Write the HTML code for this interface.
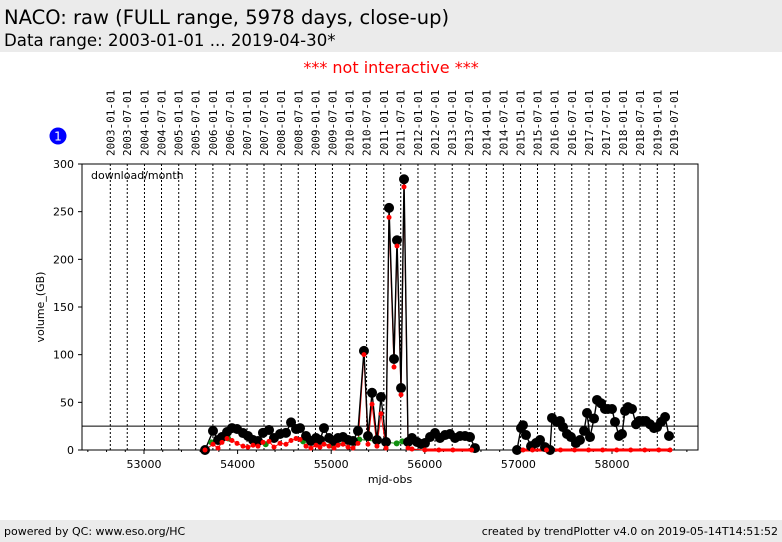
<!DOCTYPE html>
<html><head><meta charset="utf-8"><style>
body{margin:0;width:782px;height:542px;background:#fff;overflow:hidden;font-family:"DejaVu Sans","Liberation Sans",sans-serif;position:relative}
.hdr{position:absolute;left:0;top:0;width:782px;height:52px;background:#ebebeb}
.ftr{position:absolute;left:0;top:520px;width:782px;height:22px;background:#ebebeb;font-size:11px}
</style></head><body>
<div class="hdr">
<div style="position:absolute;left:4px;top:6px;font-size:19.5px">NACO: raw (FULL range, 5978 days, close-up)</div>
<div style="position:absolute;left:4px;top:31px;font-size:16.6px">Data range: 2003-01-01 ... 2019-04-30*</div>
</div>
<div style="position:absolute;left:0;width:782px;top:58px;text-align:center;color:#f00;font-size:16px">*** not interactive ***</div>
<svg id="chart" width="782" height="542" style="position:absolute;left:0;top:0"></svg>
<div class="ftr">
<span style="position:absolute;left:4px;top:5px">powered by QC: www.eso.org/HC</span>
<span style="position:absolute;right:4px;top:5px">created by trendPlotter v4.0 on 2019-05-14T14:51:52</span>
</div>
<script>
const blackMjd=[53652,53737,53791,53833,53887,53940,53994,54058,54111,54165,54218,54271,54336,54389,54453,54517,54571,54624,54667,54731,54784,54838,54880,54923,54977,55030,55073,55126,55180,55233,55286,55350,55393,55436,55489,55532,55586,55618,55671,55703,55746,55778,55821,55863,55917,55959,56002,56056,56109,56162,56216,56269,56323,56376,56430,56483,56536,
56985,57028,57049,57081,57135,57188,57231,57284,57338,57359,57412,57444,57477,57519,57562,57615,57658,57701,57733,57765,57808,57840,57883,57925,57957,58000,58032,58075,58107,58139,58171,58214,58257,58289,58331,58363,58406,58449,58481,58524,58567,58609];
const blackVal=[0,20,10.5,13.6,18.9,23,22,17.8,14.7,10.5,9.4,18,21,12.6,16.8,18,29,22,23,14.7,9.4,12.6,10.5,23,12.6,9.4,12.6,13.6,10.5,9.4,20,104,14.7,60,10.5,55.6,8.4,254,95.5,220,65,284,8.4,12.6,8.4,6.3,7.3,13.6,17.8,12.6,15.7,16.8,12.6,14.7,14.7,13.6,2,
0,23,26,15.7,4,7.3,10.5,3,0,33.6,29.4,30.4,24,16.8,13.6,7.3,10.5,20,38.8,13.6,33,52.5,49,43,43,43,29.4,14.7,16.8,41,45,43,27,30.4,30.4,30.4,27,23,24,29.4,34.6,14.7];
const redMjd=[53652,53737,53791,53833,53887,53940,53994,54058,54111,54165,54218,54271,54336,54389,54453,54517,54571,54624,54667,54731,54784,54838,54880,54923,54977,55030,55073,55126,55180,55233,55286,55350,55393,55436,55489,55532,55586,55618,55671,55703,55746,55778,55821,55863,56000,56150,56300,56500,
57050,57150,57300,57450,57600,57750,57900,58050,58200,58350,58500,58620];
const redVal=[0,6,2,8,12,10,7,4,3,5,4,8,9,3,7,6,10,12,11,4,2,5,3,6,4,2,5,6,3,2,7,100,6,48,4,38,2,244,87,214,58,276,2,1,0,0,0,0,
0,0,0,0,0,0,0,0,0,0,0,0];
const greenMjd=[53720,53900,54300,54700,55000,55300,55500,55700,55760];
const greenVal=[8,12,6,9,5,11,9,7,9];
const yTicks=[0,50,100,150,200,250,300];
const xTicks=[53000,54000,55000,56000,57000,58000];
const refLine=25;
const X0=82,X1=698,Y0=450,Y1=164;
const xs=m=>144+(m-53000)*0.0936;
const ys=v=>Y0-v*(Y0-Y1)/300;
const svg=document.getElementById('chart');
const NS='http://www.w3.org/2000/svg';
function mk(t,a,p){const e=document.createElementNS(NS,t);for(const k in a)e.setAttribute(k,a[k]);(p||svg).appendChild(e);return e;}
for(let y=2003;y<=2019;y++)for(const mo of [0,6]){
 const mjd=Date.UTC(y,mo,1)/86400000+40587;const x=xs(mjd);
 const l=mk('line',{x1:x,x2:x,y1:Y1,y2:Y0,stroke:'#000','stroke-dasharray':'2,2','stroke-width':1});
 
 
 const t=mk('text',{x:0,y:0,transform:`translate(${x+4},156) rotate(-90)`,'font-size':'11','font-family':'DejaVu Sans Mono,Liberation Mono,monospace'});
 t.textContent=`${y}-0${mo+1}-01`;
 
 
}
mk('rect',{x:X0,y:Y1,width:X1-X0,height:Y0-Y1,fill:'none',stroke:'#000','stroke-width':1});
const c=mk('circle',{cx:58,cy:136,r:8.5,fill:'#0000ff'});
const ct=mk('text',{x:58,y:140.5,'text-anchor':'middle','font-size':'12',fill:'#fff'});ct.textContent='1';
for(const v of yTicks){const y=ys(v);mk('line',{x1:X0-4,x2:X0,y1:y,y2:y,stroke:'#000'});
 const t=mk('text',{x:X0-8,y:y+4,'text-anchor':'end','font-size':'11'});t.textContent=v;
 }
for(let m=52400;m<=58800;m+=200){const x=xs(m);if(x<X0||x>X1)continue;const maj=m%1000===0;
 mk('line',{x1:x,x2:x,y1:Y0,y2:Y0+(maj?4:2),stroke:'#000'});}
for(const m of xTicks){const t=mk('text',{x:xs(m),y:Y0+18,'text-anchor':'middle','font-size':'11'});t.textContent=m;
 }
let t=mk('text',{x:390,y:483,'text-anchor':'middle','font-size':'11'});t.textContent='mjd-obs';
t=mk('text',{x:0,y:0,transform:'translate(44,307) rotate(-90)','text-anchor':'middle','font-size':'11'});t.textContent='volume_(GB)';
t=mk('text',{x:91,y:179,'font-size':'11'});t.textContent='download/month';
const rl=mk('line',{x1:X0,x2:X1,y1:ys(refLine),y2:ys(refLine),stroke:'#000'});
function lines(mj,vv,col,name,lw){
 const seg=[];let cur=[];
 for(let i=0;i<mj.length;i++){if(i>0&&mj[i]-mj[i-1]>300){seg.push(cur);cur=[];}cur.push(xs(mj[i])+','+ys(vv[i]));}
 seg.push(cur);
 for(const s of seg){const p=mk('polyline',{points:s.join(' '),fill:'none',stroke:col,'stroke-width':lw});}
 for(let i=1;i<mj.length;i++){if(vv[i]===0&&vv[i-1]===0&&mj[i]-mj[i-1]<=300){
  const b=mk('line',{x1:xs(mj[i-1]),x2:xs(mj[i]),y1:ys(0),y2:ys(0),stroke:col,'stroke-width':3});
  }}
}
function points(mj,vv,col,r,name){
 for(let i=0;i<mj.length;i++){const e=mk('circle',{cx:xs(mj[i]),cy:ys(vv[i]),r:r,fill:col});
  
  }
}
lines(greenMjd,greenVal,'#109010','green-series',1);
lines(redMjd,redVal,'#ff0000','red-series',1);
lines(blackMjd,blackVal,'#000','black-series',1.4);
points(greenMjd,greenVal,'#109010',3,'green-series');
points(blackMjd,blackVal,'#000',5,'black-series');
points(redMjd,redVal,'#ff0000',2.5,'red-series');
</script>
</body></html>
